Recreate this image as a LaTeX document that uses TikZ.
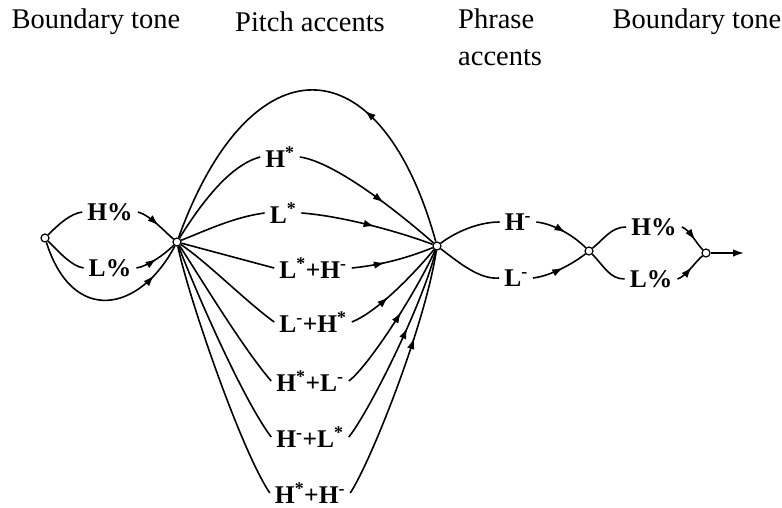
\documentclass[tikz,border=0pt]{standalone}
\usepackage{fontspec}
\setmainfont{Liberation Serif}
\usetikzlibrary{arrows.meta,decorations.markings}
\begin{document}
\begin{tikzpicture}[x=1pt,y=-1pt,
  st/.style={circle,draw,fill=white,line width=1.2pt,inner sep=0pt,minimum size=8pt},
  lab/.style={font=\fontsize{25.5}{28}\selectfont\bfseries,inner sep=5pt},
  hdr/.style={font=\fontsize{28.5}{37}\selectfont,inner sep=0pt},
  edge/.style={line width=1.6pt},
  marr/.style={postaction={decorate},decoration={markings,mark=at position #1 with {\arrow{Latex[length=11pt,width=7.5pt]}}}}
]
\useasboundingbox (0,0) rectangle (782,508);
% headers
\node[hdr] (h1) at (96,22) {Boundary tone};
\node[hdr] (h2) at (310,22) {Pitch accents};
\node[hdr,align=left,anchor=north west] (h3) at (458,9) {Phrase\\accents};
\node[hdr] (h4) at (697,22) {Boundary tone};
% states
\node[st] (n0) at (45,238) {};
\node[st] (n1) at (177,242) {};
\node[st] (n2) at (437,246) {};
\node[st] (n3) at (589,251) {};
\node[st] (n4) at (706,253) {};
\coordinate (fin) at (744,253);
% labels
\node[lab] (hl) at (110,212) {H\%};
\node[lab] (ll) at (110,268) {L\%};
\node[lab] (hs) at (280,157) {H\textsuperscript{*}};
\node[lab] (ls) at (283,213) {L\textsuperscript{*}};
\node[lab] (lshm) at (313,268) {L\textsuperscript{*}+H\textsuperscript{-}};
\node[lab] (lmhs) at (313,322) {L\textsuperscript{-}+H\textsuperscript{*}};
\node[lab] (hslm) at (310,381) {H\textsuperscript{*}+L\textsuperscript{-}};
\node[lab] (hmls) at (310,437) {H\textsuperscript{-}+L\textsuperscript{*}};
\node[lab] (hshm) at (310,493) {H\textsuperscript{*}+H\textsuperscript{-}};
\node[lab] (hm) at (518,222) {H\textsuperscript{-}};
\node[lab] (lm) at (516,278) {L\textsuperscript{-}};
\node[lab] (hb) at (654,227) {H\%};
\node[lab] (lb) at (651,279) {L\%};
% left boundary
\draw[edge] (n0) .. controls +(15,-15) and +(-12,2) .. (hl.west);
\draw[edge,marr=0.55] (hl.east) .. controls +(12,3) and +(-12,-10) .. (n1);
\draw[edge] (n0) .. controls +(15,15) and +(-12,-2) .. (ll.west);
\draw[edge,marr=0.5] (ll.east) .. controls +(12,-2) and +(-12,12) .. (n1);
\draw[edge,marr=0.8] (n0) .. controls +(28,88) and +(-37,70) .. (n1);
% loop
\draw[edge,marr=0.36] (n2) .. controls (380,40) and (250,40) .. (n1);
% pitch accents
\draw[edge] (n1) .. controls +(25,-40) and +(-30,8) .. (hs.west);
\draw[edge] (n1) .. controls +(30,-12) and +(-30,4) .. (ls.west);
\draw[edge] (n1) .. controls +(30,8) and +(-30,-8) .. (lshm.west);
\draw[edge] (n1) .. controls +(30,20) and +(-30,-22) .. (lmhs.west);
\draw[edge] (n1) .. controls +(20,30) and +(-30,-35) .. (hslm.west);
\draw[edge] (n1) .. controls +(15,40) and +(-30,-40) .. (hmls.west);
\draw[edge] (n1) .. controls +(10,50) and +(-30,-45) .. (hshm.west);
\draw[edge,marr=0.6] (hs.east) .. controls +(35,5) and +(-40,-35) .. (n2);
\draw[edge,marr=0.55] (ls.east) .. controls +(40,3) and +(-40,-15) .. (n2);
\draw[edge,marr=0.4] (lshm.east) .. controls +(30,-3) and +(-30,12) .. (n2);
\draw[edge,marr=0.4] (lmhs.east) .. controls +(25,-10) and +(-25,30) .. (n2);
\draw[edge,marr=0.55] (hslm.east) .. controls +(20,-15) and +(-20,45) .. (n2);
\draw[edge,marr=0.6] (hmls.east) .. controls +(20,-25) and +(-15,60) .. (n2);
\draw[edge,marr=0.65] (hshm.east) .. controls +(20,-30) and +(-12,80) .. (n2);
% phrase accents
\draw[edge] (n2) .. controls +(20,-15) and +(-20,0) .. (hm.west);
\draw[edge,marr=0.55] (hm.east) .. controls +(18,2) and +(-15,-15) .. (n3);
\draw[edge] (n2) .. controls +(20,15) and +(-20,2) .. (lm.west);
\draw[edge,marr=0.55] (lm.east) .. controls +(18,-2) and +(-15,12) .. (n3);
% final boundary
\draw[edge] (n3) .. controls +(15,-12) and +(-15,0) .. (hb.west);
\draw[edge,marr=0.6] (hb.east) .. controls +(8,3) and +(-10,-10) .. (n4);
\draw[edge] (n3) .. controls +(15,15) and +(-15,0) .. (lb.west);
\draw[edge,marr=0.55] (lb.east) .. controls +(8,-2) and +(-10,8) .. (n4);
\draw[edge,-{Latex[length=11pt,width=7.5pt]}] (n4) -- (fin);
\end{tikzpicture}
\end{document}
